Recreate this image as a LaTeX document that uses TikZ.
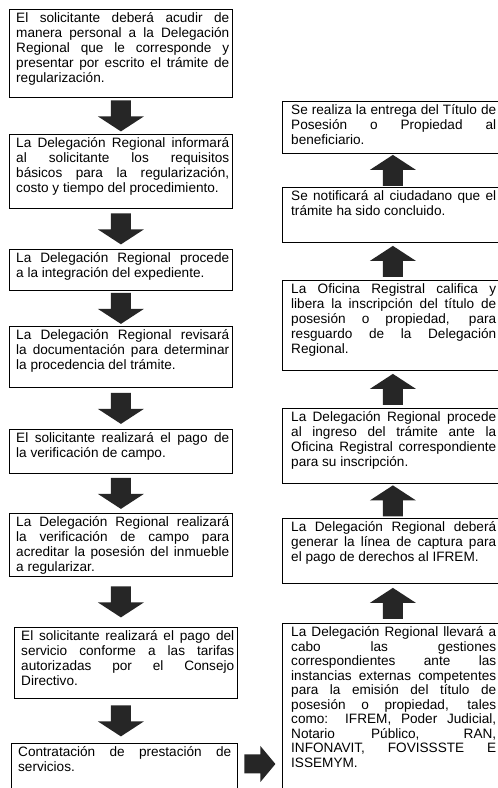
\documentclass[tikz,border=0pt]{standalone}
\usepackage{fontspec}
\setmainfont{Liberation Sans}
\usetikzlibrary{calc}
\tikzset{
  box/.style={draw=black, line width=0.8pt, fill=white, inner sep=0pt, anchor=north west},
  txt/.style={anchor=base west, inner sep=0pt, align=justify, text=black,
    font={\fontsize{13.6}{15}\selectfont\hyphenpenalty=10000\tolerance=10000\hbadness=10000}},
  ltxt/.style={txt, text width=213},
  rtxt/.style={txt, text width=205},
  blk/.style={fill=black!85, draw=none},
}
\newcommand{\arrdown}[1]{\fill[blk] ($(#1)+(-10,15.5)$) -- ($(#1)+(10,15.5)$) -- ($(#1)+(10,-0.5)$) -- ($(#1)+(23,-0.5)$) -- ($(#1)+(0,-15.5)$) -- ($(#1)+(-23,-0.5)$) -- ($(#1)+(-10,-0.5)$) -- cycle;}
\newcommand{\arrup}[1]{\fill[blk] ($(#1)+(-10,-15.5)$) -- ($(#1)+(10,-15.5)$) -- ($(#1)+(10,0.5)$) -- ($(#1)+(23,0.5)$) -- ($(#1)+(0,15.5)$) -- ($(#1)+(-23,0.5)$) -- ($(#1)+(-10,0.5)$) -- cycle;}
\newcommand{\arrright}[1]{\fill[blk] ($(#1)+(-15.5,9.5)$) -- ($(#1)+(0.5,9.5)$) -- ($(#1)+(0.5,18)$) -- ($(#1)+(15.5,0)$) -- ($(#1)+(0.5,-18)$) -- ($(#1)+(0.5,-9.5)$) -- ($(#1)+(-15.5,-9.5)$) -- cycle;}
\begin{document}
\begin{tikzpicture}[x=1pt,y=1pt]
\useasboundingbox (0,0) rectangle (498,788);
\clip (0,0) rectangle (498,788);
\fill[white] (0,0) rectangle (498,788);
% ---------- left column ----------
\node[box, minimum width=223, minimum height=88] (b1) at (9,779) {};
\node[box, minimum width=223, minimum height=74] (b2) at (9,654) {};
\node[box, minimum width=223, minimum height=41] (b3) at (9,539) {};
\node[box, minimum width=223, minimum height=61] (b4) at (9,462) {};
\node[box, minimum width=223, minimum height=44] (b5) at (9,359) {};
\node[box, minimum width=223, minimum height=63] (b6) at (9,275) {};
\node[box, minimum width=223, minimum height=71] (b7) at (14,161) {};
\node[box, minimum width=226, minimum height=60] (b8) at (11,45) {};
\node[ltxt] (t1) at ($(b1.north west)+(7,-14)$) {El solicitante deberá acudir de\linebreak manera personal a la Delegación\linebreak Regional que le corresponde y\linebreak presentar por escrito el trámite de\linebreak regularización.};
\node[ltxt] (t2) at ($(b2.north west)+(7,-14)$) {La Delegación Regional informará\linebreak al solicitante los requisitos\linebreak básicos para la regularización,\linebreak costo y tiempo del procedimiento.};
\node[ltxt] (t3) at ($(b3.north west)+(7,-14)$) {La Delegación Regional procede\linebreak a la integración del expediente.};
\node[ltxt] (t4) at ($(b4.north west)+(7,-14)$) {La Delegación Regional revisará\linebreak la documentación para determinar\linebreak la procedencia del trámite.};
\node[ltxt] (t5) at ($(b5.north west)+(7,-14)$) {El solicitante realizará el pago de\linebreak la verificación de campo.};
\node[ltxt] (t6) at ($(b6.north west)+(7,-14)$) {La Delegación Regional realizará\linebreak la verificación de campo para\linebreak acreditar la posesión del inmueble\linebreak a regularizar.};
\node[ltxt] (t7) at ($(b7.north west)+(7,-14)$) {El solicitante realizará el pago del\linebreak servicio conforme a las tarifas\linebreak autorizadas por el Consejo\linebreak Directivo.};
\node[ltxt] (t8) at ($(b8.north west)+(7,-14)$) {Contratación de prestación de\linebreak servicios.};
% ---------- right column ----------
\node[box, minimum width=221, minimum height=52] (r1) at (282,687) {};
\node[box, minimum width=221, minimum height=55] (r2) at (282,601) {};
\node[box, minimum width=221, minimum height=90] (r3) at (282,508) {};
\node[box, minimum width=221, minimum height=75] (r4) at (282,380) {};
\node[box, minimum width=221, minimum height=65] (r5) at (282,270) {};
\node[box, minimum width=221, minimum height=180] (r6) at (282,165) {};
\node[rtxt] (s1) at ($(r1.north west)+(9,-14)$) {Se realiza la entrega del Título de\linebreak Posesión o Propiedad al\linebreak beneficiario.};
\node[rtxt] (s2) at ($(r2.north west)+(9,-14)$) {Se notificará al ciudadano que el\linebreak trámite ha sido concluido.};
\node[rtxt] (s3) at ($(r3.north west)+(9,-14)$) {La Oficina Registral califica y\linebreak libera la inscripción del título de\linebreak posesión o propiedad, para\linebreak resguardo de la Delegación\linebreak Regional.};
\node[rtxt] (s4) at ($(r4.north west)+(9,-14)$) {La Delegación Regional procede\linebreak al ingreso del trámite ante la\linebreak Oficina Registral correspondiente\linebreak para su inscripción.};
\node[rtxt] (s5) at ($(r5.north west)+(9,-14)$) {La Delegación Regional deberá\linebreak generar la línea de captura para\linebreak el pago de derechos al IFREM.};
\node[rtxt, font={\fontsize{13.6}{14.5}\selectfont\hyphenpenalty=10000\tolerance=10000\hbadness=10000}] (s6) at ($(r6.north west)+(9,-14)$) {La Delegación Regional llevará a\linebreak cabo las gestiones\linebreak correspondientes ante las\linebreak instancias externas competentes\linebreak para la emisión del título de\linebreak posesión o propiedad, tales\linebreak como: IFREM, Poder Judicial,\linebreak Notario Público, RAN,\linebreak INFONAVIT, FOVISSSTE E\linebreak ISSEMYM.};
% ---------- arrows, left column (down) ----------
\path ($(b1.south)!0.5!(b2.north)$) coordinate (m1);
\path ($(b2.south)!0.5!(b3.north)$) coordinate (m2);
\path ($(b3.south)!0.5!(b4.north)$) coordinate (m3);
\path ($(b4.south)!0.5!(b5.north)$) coordinate (m4);
\path ($(b5.south)!0.5!(b6.north)$) coordinate (m5);
\path ($(b6.south)!0.5!(b7.north)$) coordinate (m6);
\path ($(b7.south)!0.5!(b8.north)$) coordinate (m7);
\foreach \i in {1,...,7} {\coordinate (a\i) at (b1.south |- m\i);}
\foreach \i in {1,...,7} {\arrdown{a\i}}
% ---------- arrows, right column (up) ----------
\path ($(r2.north)!0.5!(r1.south)$) coordinate (u1);
\path ($(r3.north)!0.5!(r2.south)$) coordinate (u2);
\path ($(r4.north)!0.5!(r3.south)$) coordinate (u3);
\path ($(r5.north)!0.5!(r4.south)$) coordinate (u4);
\path ($(r6.north)!0.5!(r5.south)$) coordinate (u5);
\foreach \i in {1,...,5} {\arrup{u\i}}
% ---------- arrow between columns ----------
\path ($(b8.north east)!0.5!(r6.west |- b8.north east)$) coordinate (m8);
\coordinate (a8) at ($(m8)+(0,-21)$);
\arrright{a8}
\end{tikzpicture}
\end{document}
